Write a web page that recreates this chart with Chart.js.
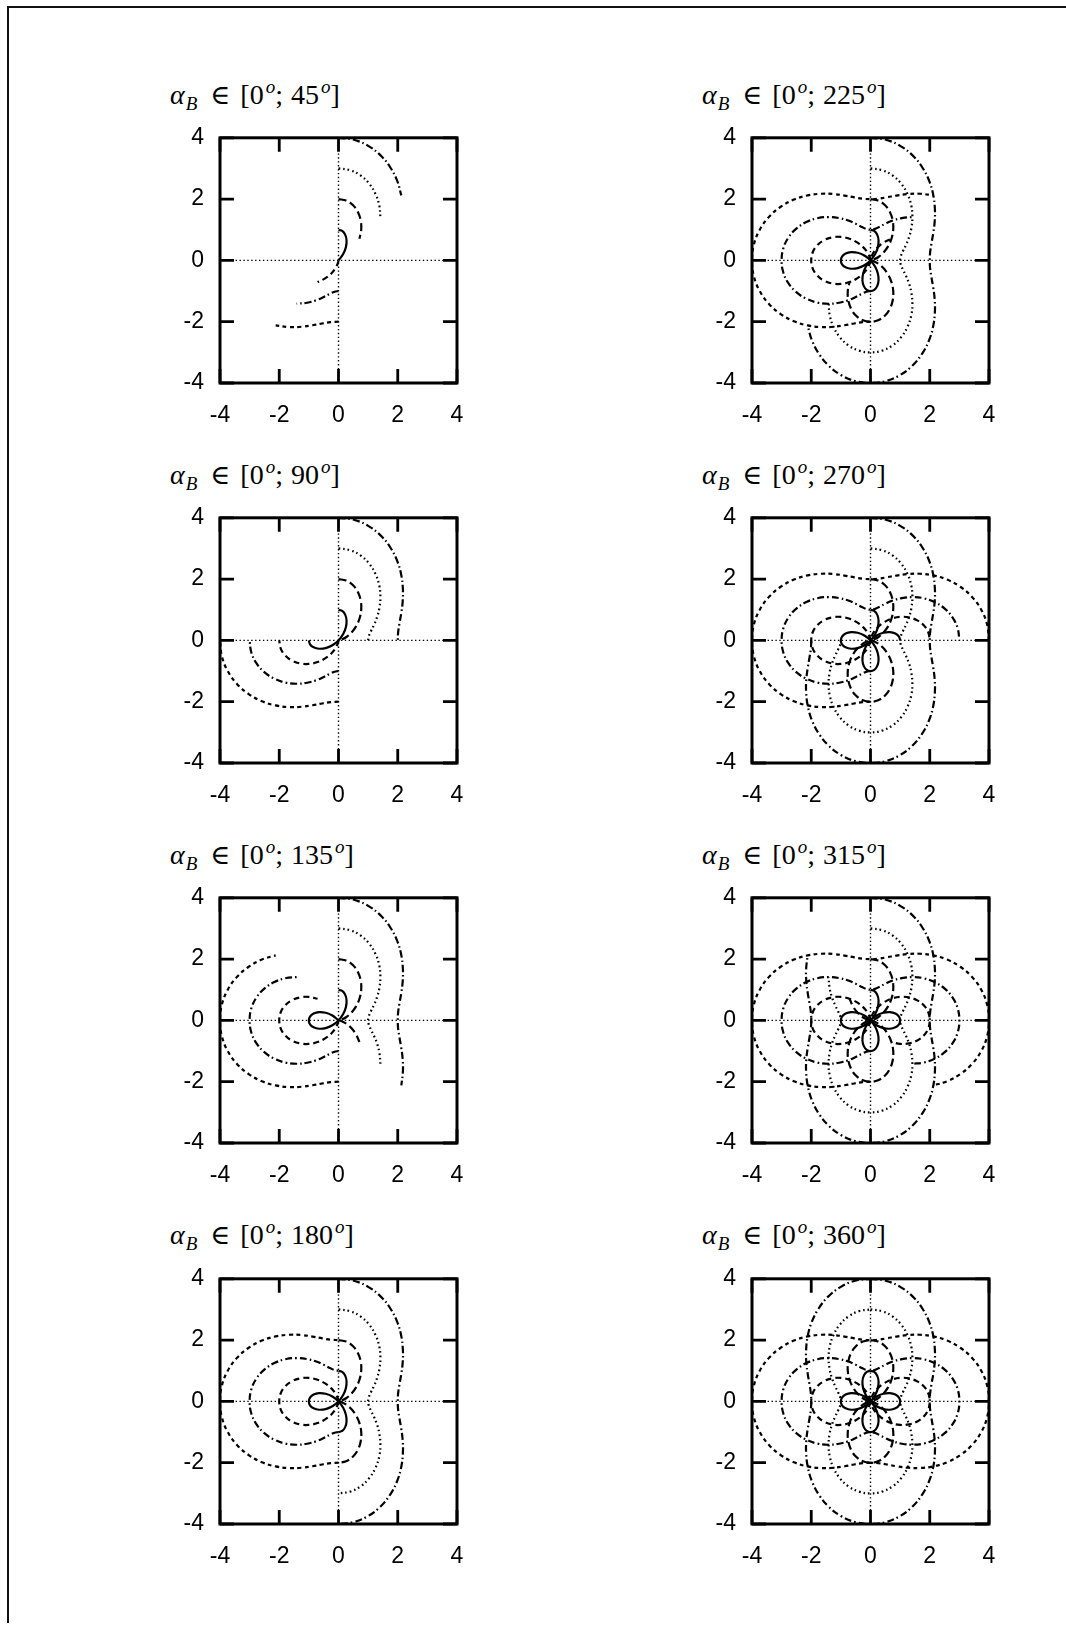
<!DOCTYPE html>
<html>
<head>
<meta charset="utf-8">
<script src="https://cdn.jsdelivr.net/npm/chart.js@4.4.1/dist/chart.umd.min.js"></script>
<style>
  html, body { margin: 0; background: #fff; }
  body { position: relative; width: 1066px; height: 1634px; overflow: hidden; }
  #sheet { position: absolute; left: 7px; top: 6px; width: 1100px; height: 1615px;
           border-left: 2px solid #111; border-top: 2px solid #111; }
  .panel { position: absolute; }
  .title { position: absolute; font-family: "Liberation Serif", serif; font-size: 28px;
           line-height: 28px; white-space: nowrap; color: #000; }
  .title sub, .title sup { font-size: 19px; line-height: 0; }
  .title sub { vertical-align: -6px; margin: 0 2px 0 1px; }
  .title sup { vertical-align: 11px; margin-left: 2px; }
  .title .rel { font-family: "DejaVu Serif", serif; font-size: 27px; margin: 0 10px 0 11px; }
  .title .gap { margin-left: 8px; }
</style>
</head>
<body>
<div id="sheet"></div>
<script>
// field angle alpha_B in degrees, sampled every 7.5 deg
const alphaB = [0, 7.5, 15, 22.5, 30, 37.5, 45, 52.5, 60, 67.5, 75, 82.5, 90, 97.5, 105, 112.5,
  120, 127.5, 135, 142.5, 150, 157.5, 165, 172.5, 180, 187.5, 195, 202.5, 210, 217.5, 225,
  232.5, 240, 247.5, 255, 262.5, 270, 277.5, 285, 292.5, 300, 307.5, 315, 322.5, 330, 337.5,
  345, 352.5, 360];

// signed radius of each curve at every alphaB above
const rSolid = [1, .97, .87, .71, .5, .26, 0, -.26, -.5, -.71, -.87, -.97, -1, -.97, -.87, -.71,
  -.5, -.26, 0, .26, .5, .71, .87, .97, 1, .97, .87, .71, .5, .26, 0, -.26, -.5, -.71, -.87,
  -.97, -1, -.97, -.87, -.71, -.5, -.26, 0, .26, .5, .71, .87, .97, 1];
const rLongDash = [2, 1.97, 1.87, 1.71, 1.5, 1.26, 1, .74, .5, .29, .13, .03, 0, .03, .13, .29,
  .5, .74, 1, 1.26, 1.5, 1.71, 1.87, 1.97, 2, 1.97, 1.87, 1.71, 1.5, 1.26, 1, .74, .5, .29,
  .13, .03, 0, .03, .13, .29, .5, .74, 1, 1.26, 1.5, 1.71, 1.87, 1.97, 2];
const rDotted = [3, 2.97, 2.87, 2.71, 2.5, 2.26, 2, 1.74, 1.5, 1.29, 1.13, 1.03, 1, 1.03, 1.13,
  1.29, 1.5, 1.74, 2, 2.26, 2.5, 2.71, 2.87, 2.97, 3, 2.97, 2.87, 2.71, 2.5, 2.26, 2, 1.74,
  1.5, 1.29, 1.13, 1.03, 1, 1.03, 1.13, 1.29, 1.5, 1.74, 2, 2.26, 2.5, 2.71, 2.87, 2.97, 3];
const rDashDotOuter = [4, 3.97, 3.87, 3.71, 3.5, 3.26, 3, 2.74, 2.5, 2.29, 2.13, 2.03, 2, 2.03,
  2.13, 2.29, 2.5, 2.74, 3, 3.26, 3.5, 3.71, 3.87, 3.97, 4, 3.97, 3.87, 3.71, 3.5, 3.26, 3,
  2.74, 2.5, 2.29, 2.13, 2.03, 2, 2.03, 2.13, 2.29, 2.5, 2.74, 3, 3.26, 3.5, 3.71, 3.87, 3.97, 4];
const rDash = [0, -.03, -.13, -.29, -.5, -.74, -1, -1.26, -1.5, -1.71, -1.87, -1.97, -2, -1.97,
  -1.87, -1.71, -1.5, -1.26, -1, -.74, -.5, -.29, -.13, -.03, 0, -.03, -.13, -.29, -.5, -.74,
  -1, -1.26, -1.5, -1.71, -1.87, -1.97, -2, -1.97, -1.87, -1.71, -1.5, -1.26, -1, -.74, -.5,
  -.29, -.13, -.03, 0];
const rDashDot = [-1, -1.03, -1.13, -1.29, -1.5, -1.74, -2, -2.26, -2.5, -2.71, -2.87, -2.97, -3,
  -2.97, -2.87, -2.71, -2.5, -2.26, -2, -1.74, -1.5, -1.29, -1.13, -1.03, -1, -1.03, -1.13,
  -1.29, -1.5, -1.74, -2, -2.26, -2.5, -2.71, -2.87, -2.97, -3, -2.97, -2.87, -2.71, -2.5,
  -2.26, -2, -1.74, -1.5, -1.29, -1.13, -1.03, -1];
const rShortDash = [-2, -2.03, -2.13, -2.29, -2.5, -2.74, -3, -3.26, -3.5, -3.71, -3.87, -3.97,
  -4, -3.97, -3.87, -3.71, -3.5, -3.26, -3, -2.74, -2.5, -2.29, -2.13, -2.03, -2, -2.03, -2.13,
  -2.29, -2.5, -2.74, -3, -3.26, -3.5, -3.71, -3.87, -3.97, -4, -3.97, -3.87, -3.71, -3.5,
  -3.26, -3, -2.74, -2.5, -2.29, -2.13, -2.03, -2];

// upper end of the alphaB range in each panel (left column, then right column)
const rangeMax = [45, 90, 135, 180, 225, 270, 315, 360];
const tickValues = [-4, -2, 0, 2, 4];

const curves = [
  { r: rSolid, dash: [] },
  { r: rLongDash, dash: [8, 4] },
  { r: rDotted, dash: [1.6, 3] },
  { r: rDashDotOuter, dash: [7, 3, 1.6, 3] },
  { r: rDash, dash: [6, 4] },
  { r: rDashDot, dash: [7, 3, 1.6, 3] },
  { r: rShortDash, dash: [4, 3.5] }
];

Chart.defaults.font.family = '"Liberation Sans", Arial, sans-serif';
Chart.defaults.font.size = 23;
Chart.defaults.color = '#000';

// the curve point for angle a sits at polar angle 90deg - a
function toPoints(radii, maxA) {
  const pts = [];
  alphaB.forEach((a, i) => {
    if (a > maxA) return;
    const t = a * Math.PI / 180;
    pts.push({ x: radii[i] * Math.sin(t), y: radii[i] * Math.cos(t) });
  });
  return pts;
}

// gnuplot-like box: heavy border, inward ticks on all sides, dotted zero axes
const boxFrame = {
  id: 'boxFrame',
  beforeDatasetsDraw(chart) {
    const { ctx, chartArea: a, scales: { x, y } } = chart;
    const x0 = x.getPixelForValue(0), y0 = y.getPixelForValue(0);
    ctx.save();
    ctx.strokeStyle = '#000';
    ctx.lineWidth = 1.4;
    ctx.setLineDash([1.4, 2.5]);
    ctx.beginPath();
    ctx.moveTo(x0, a.top); ctx.lineTo(x0, a.bottom);
    ctx.moveTo(a.left, y0); ctx.lineTo(a.right, y0);
    ctx.stroke();
    ctx.restore();
  },
  afterDraw(chart) {
    const { ctx, chartArea: a, scales: { x, y } } = chart;
    const len = 14;
    ctx.save();
    ctx.strokeStyle = '#000';
    ctx.lineWidth = 3;
    ctx.strokeRect(a.left, a.top, a.right - a.left, a.bottom - a.top);
    ctx.lineWidth = 2.8;
    ctx.beginPath();
    x.ticks.forEach(t => {
      const p = x.getPixelForValue(t.value);
      ctx.moveTo(p, a.bottom); ctx.lineTo(p, a.bottom - len);
      ctx.moveTo(p, a.top); ctx.lineTo(p, a.top + len);
    });
    y.ticks.forEach(t => {
      const p = y.getPixelForValue(t.value);
      ctx.moveTo(a.left, p); ctx.lineTo(a.left + len, p);
      ctx.moveTo(a.right, p); ctx.lineTo(a.right - len, p);
    });
    ctx.stroke();
    ctx.restore();
  }
};

const BOX_W = 237, BOX_H = 245, X_AXIS_H = 45;

function axis(pad, fit) {
  return {
    type: 'linear', min: -4, max: 4,
    grid: { display: false }, border: { display: false },
    afterBuildTicks(s) { s.ticks = tickValues.map(v => ({ value: v })); },
    ticks: { padding: pad, maxRotation: 0 },
    afterFit: fit
  };
}

function makeChart(canvas, maxA, height) {
  canvas.width = BOX_W + 90;
  canvas.height = height;
  return new Chart(canvas, {
    type: 'scatter',
    data: {
      datasets: curves.map(c => ({
        data: toPoints(c.r, maxA),
        showLine: true,
        borderColor: '#000',
        borderWidth: 2.2,
        borderDash: c.dash,
        pointRadius: 0,
        tension: 0.4,
        fill: false
      }))
    },
    options: {
      responsive: false,
      maintainAspectRatio: false,
      animation: false,
      events: [],
      layout: { padding: { top: 0, right: 20, left: 0, bottom: 0 } },
      plugins: { legend: { display: false }, tooltip: { enabled: false } },
      scales: {
        x: axis(11, s => { s.height = X_AXIS_H; }),
        y: axis(8, s => { s.width = 70; })
      }
    },
    plugins: [boxFrame]
  });
}

rangeMax.forEach((maxA, i) => {
  const col = Math.floor(i / 4), row = i % 4;
  const left = 220 + 532 * col;
  const top = 137.5 + 380.3 * row;

  const title = document.createElement('div');
  title.className = 'title';
  title.style.left = (left - 50) + 'px';
  title.style.top = (top - 57) + 'px';
  title.innerHTML = '<i>α</i><sub><i>B</i></sub><span class="rel">∈</span>[0<sup><i>o</i></sup>;' +
    '<span class="gap">' + maxA + '</span><sup><i>o</i></sup>]';
  document.body.appendChild(title);

  const wrap = document.createElement('div');
  wrap.className = 'panel';
  const canvas = document.createElement('canvas');
  wrap.appendChild(canvas);
  document.body.appendChild(wrap);

  // first pass finds how much room the top tick label takes, second pass sizes the box
  let chart = makeChart(canvas, maxA, BOX_H + 80);
  const over = chart.chartArea.top;
  chart.destroy();
  chart = makeChart(canvas, maxA, Math.round(over + BOX_H + X_AXIS_H));

  wrap.style.left = (left - chart.chartArea.left) + 'px';
  wrap.style.top = (top - chart.chartArea.top) + 'px';
});
</script>
</body>
</html>
